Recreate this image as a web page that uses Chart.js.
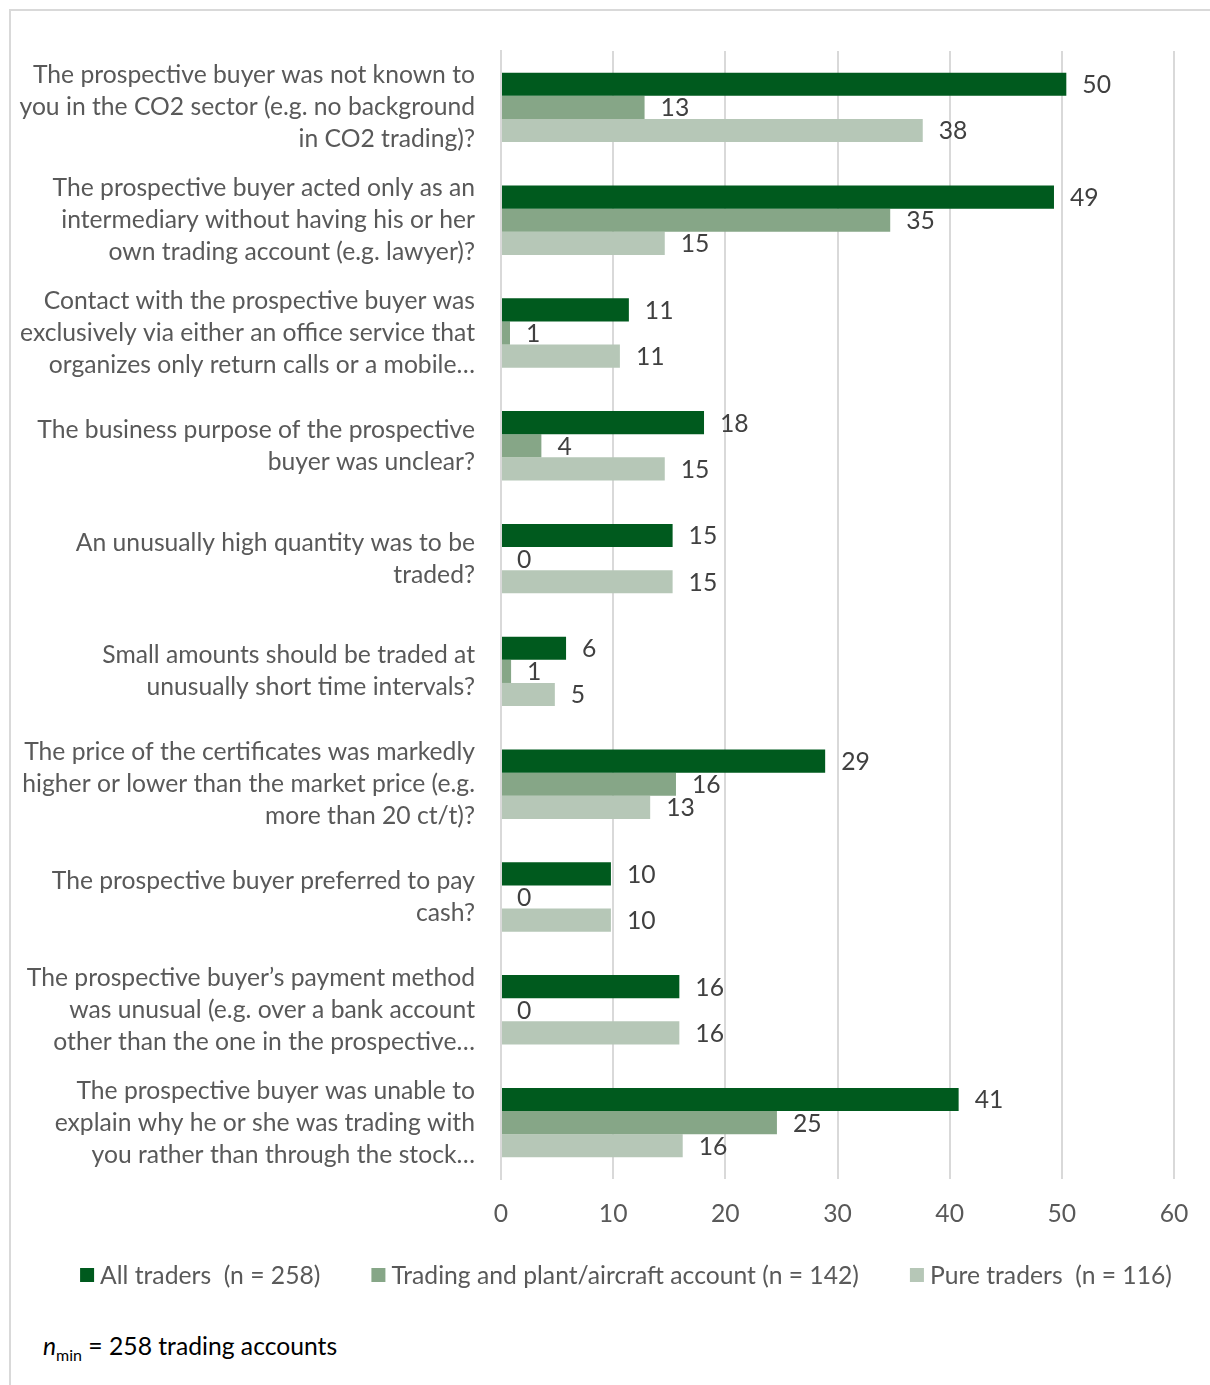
<!DOCTYPE html>
<html>
<head>
<meta charset="utf-8">
<script src="https://cdn.jsdelivr.net/npm/chart.js@4.4.1/dist/chart.umd.min.js"></script>
<style>
  html, body { margin: 0; padding: 0; background: #fff; }
  body { width: 1210px; height: 1385px; position: relative; overflow: hidden; }
  #frame { position: absolute; left: 9px; top: 9px; width: 1220px; height: 1400px; border: 2px solid #d9d9d9; box-sizing: border-box; }
  #wrap { position: absolute; left: 0; top: 0; width: 1210px; height: 1300px; }
  #note { position: absolute; left: 43px; top: 1331px; font-family: Lato, sans-serif; font-size: 24.7px; line-height: 30px; color: #000; }
  #note sub { font-size: 16px; vertical-align: -6px; line-height: 0; }
</style>
</head>
<body>
<div id="frame"></div>
<div id="wrap"><canvas id="c"></canvas></div>
<div id="note"><i>n</i><sub>min</sub> = 258 trading accounts</div>
<script>
const categories = [
  ["The prospective buyer was not known to", "you in the CO2 sector (e.g. no background", "in CO2 trading)?"],
  ["The prospective buyer acted only as an", "intermediary without having his or her", "own trading account (e.g. lawyer)?"],
  ["Contact with the prospective buyer was", "exclusively via either an office service that", "organizes only return calls or a mobile…"],
  ["The business purpose of the prospective", "buyer was unclear?"],
  ["An unusually high quantity was to be", "traded?"],
  ["Small amounts should be traded at", "unusually short time intervals?"],
  ["The price of the certificates was markedly", "higher or lower than the market price (e.g.", "more than 20 ct/t)?"],
  ["The prospective buyer preferred to pay", "cash?"],
  ["The prospective buyer’s payment method", "was unusual (e.g. over a bank account", "other than the one in the prospective…"],
  ["The prospective buyer was unable to", "explain why he or she was trading with", "you rather than through the stock…"]
];
const seriesNames = ["All traders  (n = 258)", "Trading and plant/aircraft account (n = 142)", "Pure traders  (n = 116)"];
const allTraders = [50.4, 49.3, 11.4, 18.1, 15.3, 5.8, 28.9, 9.8, 15.9, 40.8];
const tradingPlant = [12.8, 34.7, 0.8, 3.6, 0, 0.9, 15.6, 0, 0, 24.6];
const pureTraders = [37.6, 14.6, 10.6, 14.6, 15.3, 4.8, 13.3, 9.8, 15.9, 16.2];
const xTicks = [0, 10, 20, 30, 40, 50, 60];
const colors = ["#005A1E", "#86A687", "#B6C7B7"];

const FONT = "Lato, sans-serif";
const FS = 24.7;

const valueLabels = {
  id: "valueLabels",
  afterDatasetsDraw(chart) {
    const ctx = chart.ctx;
    ctx.save();
    ctx.font = FS + "px " + FONT;
    ctx.fillStyle = "#404040";
    ctx.textAlign = "left";
    ctx.textBaseline = "middle";
    chart.data.datasets.forEach((ds, i) => {
      const meta = chart.getDatasetMeta(i);
      meta.data.forEach((bar, j) => {
        ctx.fillText(String(Math.round(ds.data[j])), bar.x + 16, bar.y + 1);
      });
    });
    ctx.restore();
  }
};

const bottomLegend = {
  id: "bottomLegend",
  afterDraw(chart) {
    const ctx = chart.ctx;
    ctx.save();
    ctx.font = FS + "px " + FONT;
    ctx.textAlign = "left";
    ctx.textBaseline = "middle";
    const box = 14, textGap = 6, itemGap = 51;
    const items = chart.data.datasets.map(ds => ({ text: ds.label, color: ds.backgroundColor, w: ctx.measureText(ds.label).width }));
    const total = items.reduce((s, it) => s + box + textGap + it.w, 0) + itemGap * (items.length - 1);
    let x = 626 - total / 2;
    const y = chart.chartArea.bottom + 96;
    items.forEach(it => {
      ctx.fillStyle = it.color;
      ctx.fillRect(x, y - 7, box, box);
      ctx.fillStyle = "#595959";
      ctx.fillText(it.text, x + box + textGap, y + 1);
      x += box + textGap + it.w + itemGap;
    });
    ctx.restore();
  }
};

new Chart(document.getElementById("c"), {
  type: "bar",
  data: {
    labels: categories,
    datasets: [
      { label: seriesNames[0], data: allTraders, backgroundColor: colors[0] },
      { label: seriesNames[1], data: tradingPlant, backgroundColor: colors[1] },
      { label: seriesNames[2], data: pureTraders, backgroundColor: colors[2] }
    ]
  },
  options: {
    indexAxis: "y",
    responsive: true,
    maintainAspectRatio: false,
    animation: false,
    layout: { padding: { top: 51, right: 36, bottom: 0, left: 0 } },
    datasets: { bar: { categoryPercentage: 0.615, barPercentage: 1.0 } },
    scales: {
      x: {
        min: 0, max: 60,
        afterBuildTicks(scale) { scale.ticks = xTicks.map(v => ({ value: v })); },
        grid: { color: "#d9d9d9", lineWidth: 2, drawTicks: false },
        border: { display: false },
        ticks: { font: { family: FONT, size: FS }, color: "#595959", padding: 20 },
        afterFit(scale) { scale.height = 121; scale.paddingLeft = 0; scale.paddingRight = 0; }
      },
      y: {
        grid: { display: false, drawTicks: false },
        border: { display: true, color: "#d9d9d9", width: 2 },
        ticks: { font: { family: FONT, size: FS, lineHeight: "32px" }, color: "#595959", padding: 26, crossAlign: "near" },
        afterFit(scale) { scale.width = 501; scale.paddingTop = 0; scale.paddingBottom = 0; }
      }
    },
    plugins: {
      legend: { display: false },
      tooltip: { enabled: false }
    }
  },
  plugins: [valueLabels, bottomLegend]
});
</script>
</body>
</html>
